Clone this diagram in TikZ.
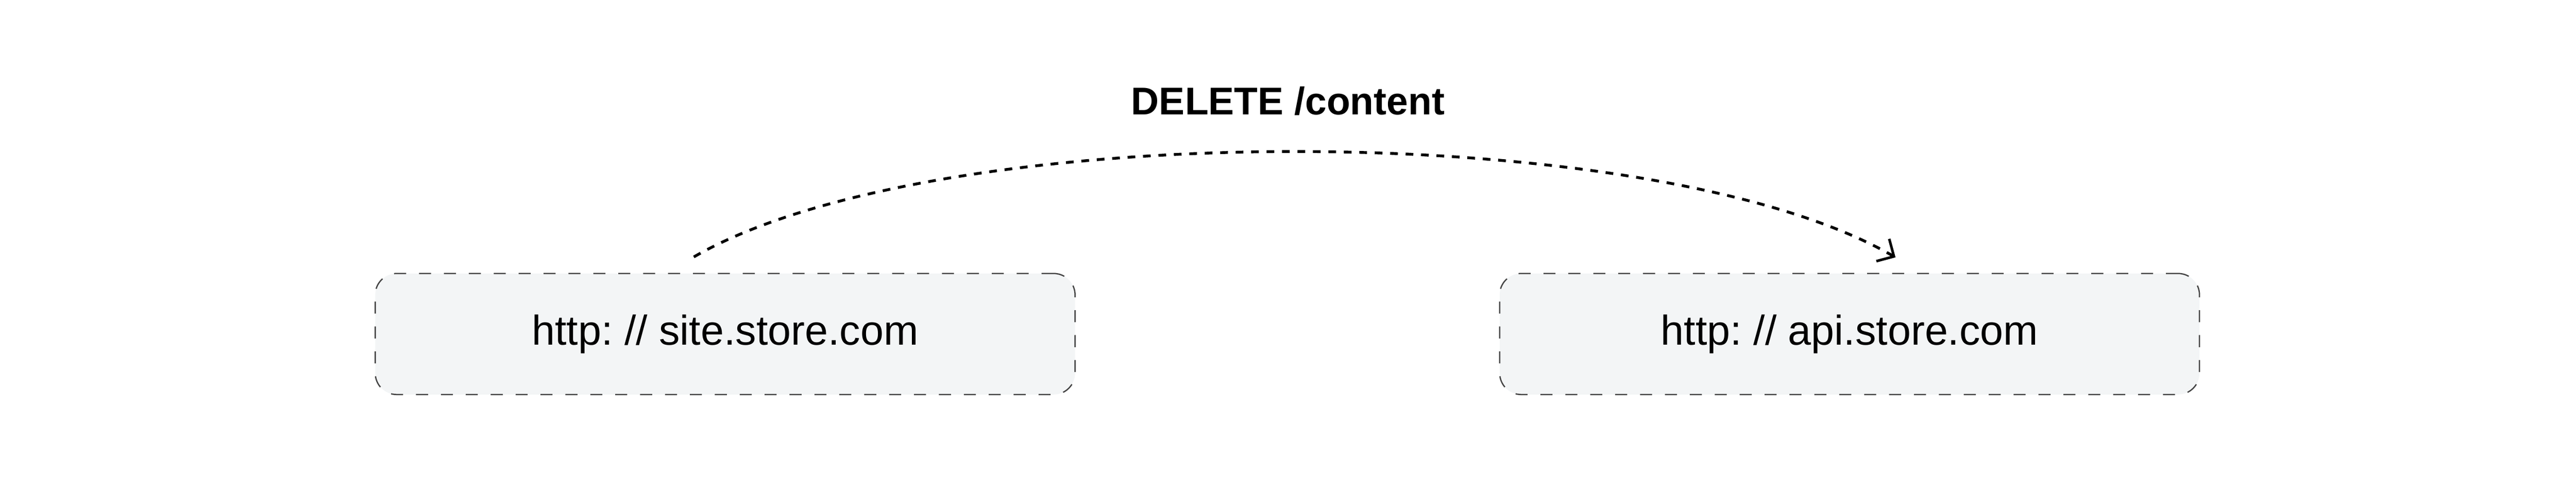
\documentclass[tikz,border=0pt]{standalone}
\usepackage{fontspec}
\setmainfont{Liberation Sans}
\usetikzlibrary{arrows.meta}
\definecolor{hostfill}{HTML}{F3F5F6}
\definecolor{hostline}{HTML}{444444}
\frenchspacing

\begin{document}
\begin{tikzpicture}[x=1pt, y=1pt,
	host/.style={draw=hostline, line width=0.3pt, dash pattern=on 2.8pt off 3pt, fill=hostfill,
		rounded corners=5pt, minimum width=163pt, minimum height=28.2pt, inner sep=0pt,
		font=\fontsize{9.7}{11}\selectfont},
	call/.style={line width=0.65pt, dash pattern=on 1.8pt off 1.8pt,
		-{Straight Barb[length=3pt, width=6pt, line width=0.6pt]}}]
	\useasboundingbox (0,0) rectangle (600,114.6);
	\node[host] (site) at (168.9,36.8) {http: // site.store.com};
	\node[host] (api) at (430.8,36.8) {http: // api.store.com};
	\node[anchor=base, font=\bfseries\fontsize{9}{11}\selectfont] (method) at (300,87.9) {DELETE /content};
	% request arc
	\draw[call] ([xshift=-7.3pt, yshift=3.7pt]site.north)
		to[out=30, in=150, looseness=0.6] ([xshift=10.7pt, yshift=3.6pt]api.north);
\end{tikzpicture}
\end{document}
